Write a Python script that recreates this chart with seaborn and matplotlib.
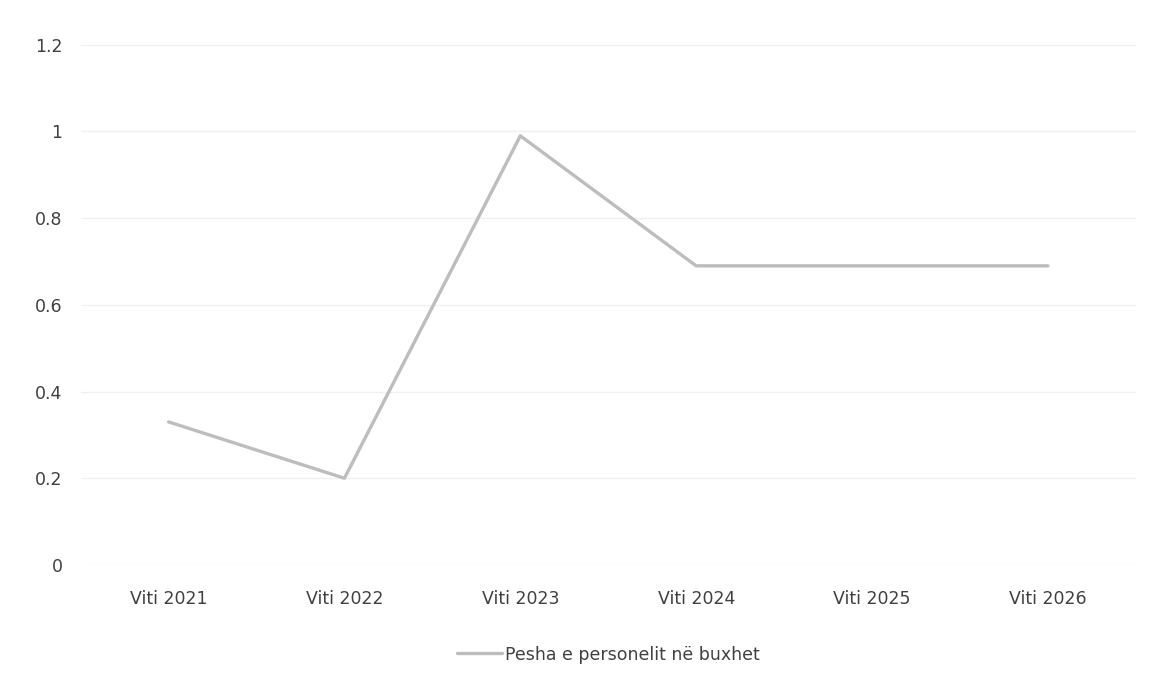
import matplotlib
matplotlib.use("Agg")
import matplotlib.pyplot as plt
import seaborn as sns
import pandas as pd

years = ["Viti 2021", "Viti 2022", "Viti 2023", "Viti 2024", "Viti 2025", "Viti 2026"]
pesha = [0.33, 0.2, 0.99, 0.69, 0.69, 0.69]
y_ticks = [0, 0.2, 0.4, 0.6, 0.8, 1, 1.2]
y_labels = ["0", "0.2", "0.4", "0.6", "0.8", "1", "1.2"]
series_name = "Pesha e personelit në buxhet"

sns.set_style("white")
plt.rcParams['font.family'] = ['DejaVu Sans']

df = pd.DataFrame({"viti": years, "pesha": pesha, "seria": series_name})

fig, ax = plt.subplots(figsize=(11.52, 6.79), dpi=100)
fig.subplots_adjust(left=0.07, right=0.986, top=0.934, bottom=0.168)

sns.lineplot(data=df, x="viti", y="pesha", hue="seria", palette=["#bdbdbd"],
             linewidth=2.4, sort=False, ax=ax)

ax.set_xlim(-0.5, len(years) - 0.5)
ax.set_ylim(0, 1.2)
ax.set_yticks(y_ticks)
ax.set_yticklabels(y_labels)
ax.yaxis.grid(True, color="#f0f0f0", linewidth=1)
ax.set_axisbelow(True)
for s in ax.spines.values():
    s.set_visible(False)
ax.set_xlabel("")
ax.set_ylabel("")
ax.tick_params(axis="both", length=0, labelsize=12.5, colors="#404040")
ax.tick_params(axis="x", pad=18)
ax.tick_params(axis="y", pad=13)

ax.legend(loc="upper center", bbox_to_anchor=(0.5, -0.125), frameon=False,
          fontsize=12.5, handlelength=2.6, handletextpad=0.2)
for t in ax.get_legend().get_texts():
    t.set_color("#404040")

plt.savefig("out.png", dpi=100)
